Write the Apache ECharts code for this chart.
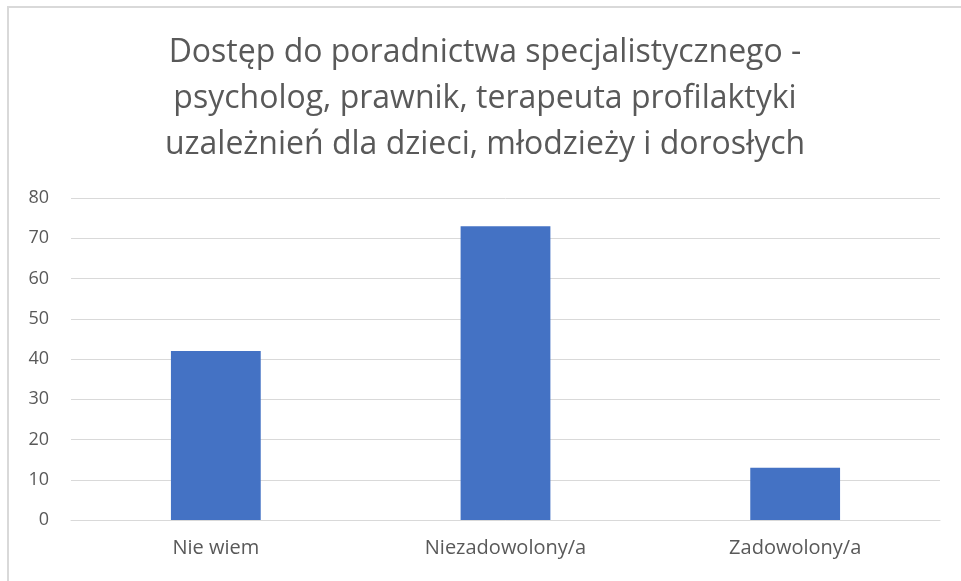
<!DOCTYPE html>
<html>
<head>
<meta charset="utf-8">
<script src="https://cdn.jsdelivr.net/npm/echarts@6/dist/echarts.min.js"></script>
<style>
  html, body { margin: 0; padding: 0; background: #fff; }
  #chart { position: absolute; left: 7px; top: 6px; width: 954px; height: 575px;
           border-left: 2px solid #d9d9d9; border-top: 2px solid #d9d9d9; box-sizing: border-box; }
</style>
</head>
<body>
<div id="chart"></div>
<script>
// dane wykresu
var categories = ['Nie wiem', 'Niezadowolony/a', 'Zadowolony/a'];
var values = [42, 73, 13];
var titleText = 'Dostęp do poradnictwa specjalistycznego -\npsycholog, prawnik, terapeuta profilaktyki\nuzależnień dla dzieci, młodzieży i dorosłych';

var myChart = echarts.init(document.getElementById('chart'));
var option = {
    animation: false,
    textStyle: { fontFamily: 'Open Sans' },
    title: {
        text: titleText,
        left: 'center',
        top: 17,
        textStyle: {
            color: '#595959',
            fontSize: 32,
            fontWeight: 'normal',
            lineHeight: 46,
            fontFamily: 'Open Sans'
        }
    },
    grid: { left: 62, right: 21, top: 190, bottom: 61 },
    xAxis: {
        type: 'category',
        data: categories,
        axisLine: { lineStyle: { color: '#d9d9d9', width: 1 } },
        axisTick: { show: false },
        axisLabel: { color: '#595959', fontSize: 20, margin: 18 }
    },
    yAxis: {
        type: 'value',
        min: 0,
        max: 80,
        interval: 10,
        axisLine: { show: false },
        axisTick: { show: false },
        splitLine: { lineStyle: { color: '#d9d9d9', width: 1 } },
        axisLabel: { color: '#595959', fontSize: 18, margin: 22 }
    },
    series: [{
        type: 'bar',
        data: values,
        barWidth: '31%',
        itemStyle: { color: '#4472c4' }
    }]
};
myChart.setOption(option);
</script>
</body>
</html>
